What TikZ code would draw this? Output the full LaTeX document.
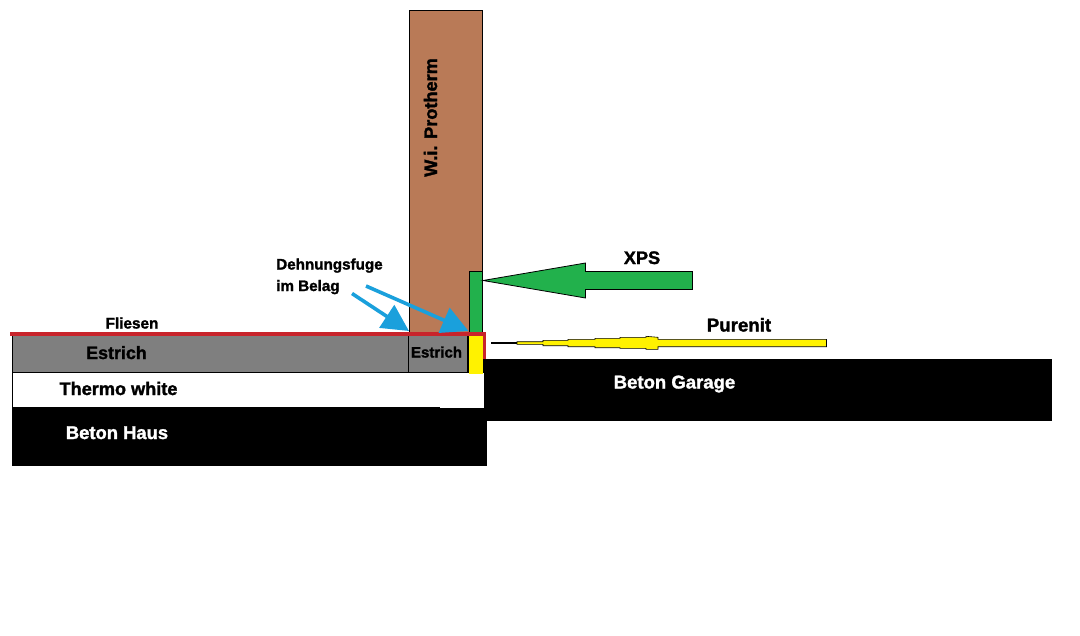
\documentclass[tikz,border=0pt]{standalone}
\usepackage{fontspec}
\setmainfont[BoldFeatures={FakeBold=1.6}]{Liberation Sans}
\usetikzlibrary{arrows.meta}
\definecolor{brownwall}{HTML}{B97A57}
\definecolor{greenx}{HTML}{22B14C}
\definecolor{redf}{HTML}{C8242B}
\definecolor{greyE}{HTML}{7F7F7F}
\definecolor{yellowp}{HTML}{FFF200}
\definecolor{blueA}{HTML}{1AA0DC}
\tikzset{
  every node/.style={font=\bfseries, inner sep=0pt},
  lay/.style={draw=black, line width=0.75pt},
  lbl/.style={font=\fontsize{#1}{#1}\selectfont\bfseries, text=black, anchor=base},
  lblw/.style={font=\fontsize{#1}{#1}\selectfont\bfseries, text=white, anchor=base},
  bluearrow/.style={draw=blueA, line width=2.7pt, -{Triangle[length=20pt,width=20pt]}}
}
\begin{document}
\begin{tikzpicture}[x=0.75pt,y=-0.75pt]
\useasboundingbox (0,0) rectangle (1080,635);
\fill[white] (0,0) rectangle (1080,635);
% concrete
\fill[black] (483,359) rectangle (1052,421);
\fill[black] (12,407) rectangle (487,466);
% thermo
\fill[white] (12,373) rectangle (484,407);
\fill[white] (440,390) rectangle (484,408);
\draw[black, line width=0.75pt] (12,373) -- (12,407);
% wall
\draw[lay, fill=brownwall] (409,10.5) rectangle (482.5,335);
\draw[lay, fill=greenx] (469.5,271.5) rectangle (482.5,334);
% screed
\draw[lay, fill=greyE] (12,335) rectangle (468,372.5);
\draw[lay] (408.5,335) -- (408.5,372.5);
\fill[yellowp] (468.5,335) rectangle (483,374);
\draw[black, line width=1.2pt] (12,372.5) -- (468,372.5);
\draw[black, line width=1.2pt] (468,335) -- (468,373);
% red
\fill[redf] (10,332) rectangle (486,336);
\fill[redf] (483,332) rectangle (486,359);
% XPS arrow
\draw[black, line width=0.6pt, fill=greenx] (483,280.5) -- (585.5,263) -- (585.5,271.5) -- (692.5,271.5) -- (692.5,289.5) -- (585.5,289.5) -- (585.5,298) -- cycle;
% Purenit
\coordinate (pa) at (491,343);
\coordinate (pb) at (517,343);
\draw[black, line width=1pt] (pa) -- (pb);
\draw[black, line width=0.45pt, fill=yellowp] (517,341.7) -- (543,341.7) -- (543,340.3) -- (568,340.3) -- (568,339.3) -- (595,339.3) -- (595,338.3) -- (620,338.3) -- (620,337.3) -- (646,337.3) -- (646,336.3) -- (658,337.3) -- (658,339.3) -- (826.5,339.3) -- (826.5,346.7) -- (658,346.7) -- (658,349.3) -- (646,349.3) -- (646,348.3) -- (620,348.3) -- (620,347.7) -- (595,347.7) -- (595,346.7) -- (568,346.7) -- (568,345.7) -- (543,345.7) -- (543,344.3) -- (517,344.3) -- cycle;
% labels
\node[lbl=13.6, rotate=90] (wall) at (437,117.5) {W.i. Protherm};
\node[lbl=13.6] (xps) at (642,264) {XPS};
\node[lbl=14] (pur) at (739,331.5) {Purenit};
\node[lbl=11.5] (fli) at (132,328.5) {Fliesen};
\node[lbl=13.4] (est1) at (116.5,359) {Estrich};
\node[lbl=11.3] (est2) at (436.5,357.5) {Estrich};
\node[lbl=13.6] (thw) at (118.5,395) {Thermo white};
\node[lblw=13.8] (bh) at (117,439) {Beton Haus};
\node[lblw=13.9] (bg) at (674.5,388.5) {Beton Garage};
\node[lbl=11.4, anchor=base west] (deh) at (276,269.5) {Dehnungsfuge};
\node[lbl=11.4, anchor=base west] (bel) at (276,291) {im Belag};
% blue arrows
\coordinate (a1s) at (352,293.5);
\coordinate (a1e) at (409,331);
\coordinate (a2s) at (366,286);
\coordinate (a2e) at (468.5,331);
\draw[bluearrow] (a1s) -- (a1e);
\draw[bluearrow] (a2s) -- (a2e);
\end{tikzpicture}
\end{document}
